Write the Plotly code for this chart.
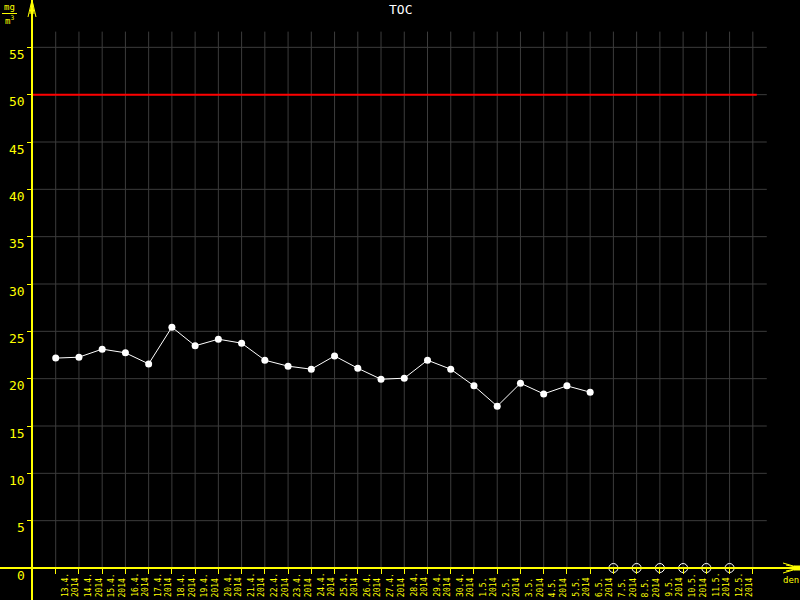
import plotly.graph_objects as go

# ---- data ----
dates = ["13.4.", "14.4.", "15.4.", "16.4.", "17.4.", "18.4.", "19.4.", "20.4.",
         "21.4.", "22.4.", "23.4.", "24.4.", "25.4.", "26.4.", "27.4.", "28.4.",
         "29.4.", "30.4.", "1.5.", "2.5.", "3.5.", "4.5.", "5.5.", "6.5.",
         "7.5.", "8.5.", "9.5.", "10.5.", "11.5.", "12.5."]
year = "2014"
toc_values = [22.17, 22.27, 23.12, 22.73, 21.56, 25.44, 23.47, 24.17, 23.75,
              21.95, 21.32, 21.00, 22.40, 21.10, 19.94, 20.05, 21.95, 21.00,
              19.24, 17.09, 19.52, 18.39, 19.24, 18.57]
missing_dates = ["7.5.", "8.5.", "9.5.", "10.5.", "11.5.", "12.5."]
limit_value = 50
y_ticks = [0, 5, 10, 15, 20, 25, 30, 35, 40, 45, 50, 55]

# ---- geometry helpers (pixel -> paper) ----
W, H = 800, 600
ML, MB = 32, 32
PW, PH = W - ML, H - MB


def px(xp):
    return (xp - ML) / PW


def py(yp):
    return (PH - yp) / PH


YEL = "#ffff00"
GRID = "#3c3c3c"
FONT = "DejaVu Sans Mono"

pos = {d: i for i, d in enumerate(dates)}
x_vals = [pos[d] for d in dates[:len(toc_values)]]
x_missing = [pos[d] for d in missing_dates]
n_ticks = len(dates) + 1

fig = go.Figure()
fig.add_trace(go.Scatter(
    x=x_vals, y=toc_values, mode="lines+markers",
    line=dict(color="white", width=1),
    marker=dict(color="white", size=7),
    showlegend=False, cliponaxis=False, hoverinfo="skip"))
fig.add_trace(go.Scatter(
    x=x_missing, y=[0] * len(x_missing), mode="markers",
    marker=dict(symbol="circle-open", color="white", size=9, line=dict(width=1)),
    showlegend=False, cliponaxis=False, hoverinfo="skip"))

shapes = []
x_left = -1.02
for i in range(n_ticks):
    shapes.append(dict(type="line", xref="x", yref="y", x0=i, x1=i, y0=0, y1=56.66,
                       line=dict(color=GRID, width=1), layer="below"))
for v in y_ticks[1:]:
    shapes.append(dict(type="line", xref="x", yref="y", x0=x_left, x1=30.6, y0=v, y1=v,
                       line=dict(color=GRID, width=1), layer="below"))
shapes.append(dict(type="line", xref="x", yref="y", x0=x_left, x1=30.17,
                   y0=limit_value, y1=limit_value, line=dict(color="#ff0000", width=2)))
# axis lines
shapes.append(dict(type="line", xref="paper", yref="paper", x0=px(0), x1=px(800),
                   y0=py(568), y1=py(568), line=dict(color=YEL, width=2)))
shapes.append(dict(type="line", xref="paper", yref="paper", x0=px(32), x1=px(32),
                   y0=py(600), y1=py(0), line=dict(color=YEL, width=2)))
# arrow heads
ya = "M {} {} L {} {} M {} {} L {} {} M {} {} L {} {} M {} {} L {} {}".format(
    px(32), py(0), px(28), py(17), px(32), py(0), px(36), py(17),
    px(32), py(0), px(30), py(14), px(32), py(0), px(34), py(14))
shapes.append(dict(type="path", xref="paper", yref="paper", path=ya,
                   line=dict(color=YEL, width=1)))
xa = "M {} {} L {} {} M {} {} L {} {} M {} {} L {} {} M {} {} L {} {}".format(
    px(800), py(568), px(783), py(563), px(800), py(568), px(783), py(573),
    px(800), py(568), px(786), py(565), px(800), py(568), px(786), py(571))
shapes.append(dict(type="path", xref="paper", yref="paper", path=xa,
                   line=dict(color=YEL, width=1)))
shapes.append(dict(type="rect", xref="paper", yref="paper", x0=px(794), x1=px(800),
                   y0=py(570.5), y1=py(565.5), fillcolor=YEL, line=dict(width=0)))
# unit fraction bar
shapes.append(dict(type="line", xref="paper", yref="paper", x0=px(2), x1=px(17),
                   y0=py(13.5), y1=py(13.5), line=dict(color=YEL, width=1)))

annotations = []
# y tick labels (sit slightly below their grid lines, as in the original)
for v in y_ticks:
    annotations.append(dict(
        x=px(27), xref="paper", y=v, yref="y", yshift=-7,
        text=str(v), xanchor="right", yanchor="middle", showarrow=False,
        font=dict(family=FONT, size=13, color=YEL)))
for d in dates:
    annotations.append(dict(
        x=pos[d] + 0.615, xref="x", y=py(599), yref="paper",
        text=d + "<br>" + year, textangle=-90, align="left",
        xanchor="center", yanchor="bottom", showarrow=False,
        font=dict(family=FONT, size=8, color=YEL)))
annotations.append(dict(x=px(400), y=py(9), xref="paper", yref="paper", text="TOC",
                        xanchor="center", yanchor="middle", showarrow=False,
                        font=dict(family=FONT, size=13, color="white")))
annotations.append(dict(x=px(791), y=py(580), xref="paper", yref="paper", text="den",
                        xanchor="center", yanchor="middle", showarrow=False,
                        font=dict(family=FONT, size=9, color=YEL)))
annotations.append(dict(x=px(9), y=py(6.5), xref="paper", yref="paper", text="mg",
                        xanchor="center", yanchor="middle", showarrow=False,
                        font=dict(family=FONT, size=9, color=YEL)))
annotations.append(dict(x=px(9), y=py(20), xref="paper", yref="paper", text="m<sup>3</sup>",
                        xanchor="center", yanchor="middle", showarrow=False,
                        font=dict(family=FONT, size=9, color=YEL)))

fig.update_layout(
    width=W, height=H, autosize=False,
    margin=dict(l=ML, r=0, t=0, b=MB),
    paper_bgcolor="black", plot_bgcolor="black",
    hovermode=False,
    xaxis=dict(range=[x_left, 32.03], tickvals=list(range(n_ticks)),
               showticklabels=False, ticks="outside", ticklen=5, tickcolor=YEL,
               tickwidth=1, showgrid=False, zeroline=False, showline=False),
    yaxis=dict(range=[0, 60], tickvals=y_ticks, ticks="outside", ticklen=4,
               tickcolor=YEL, tickwidth=1, showgrid=False, zeroline=False,
               showline=False, showticklabels=False),
    shapes=shapes, annotations=annotations,
)

fig.write_html("out.html", config={"displayModeBar": False},
               post_script="document.body.style.margin='0';"
                           "document.body.style.background='black';")
